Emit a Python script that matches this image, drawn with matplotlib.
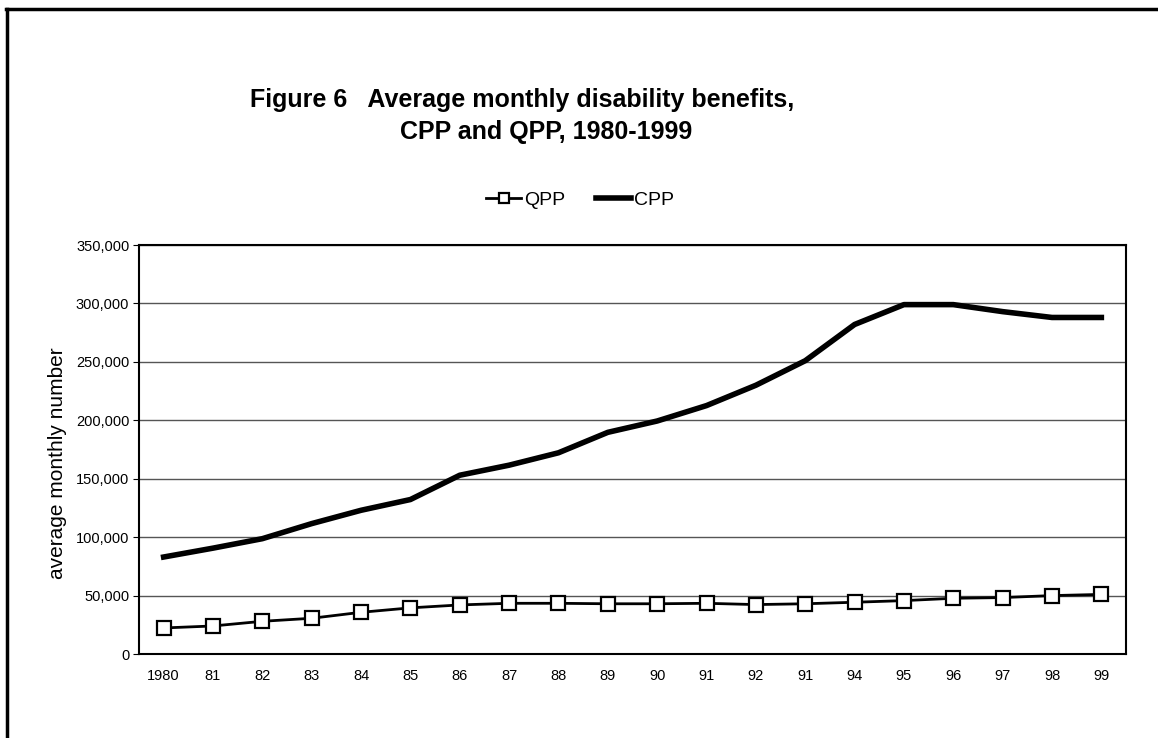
import matplotlib.pyplot as plt
from matplotlib.lines import Line2D
from matplotlib.ticker import FuncFormatter

# Datos
ANIOS = list(range(1980, 2000))
ETIQUETAS = ["1980", "81", "82", "83", "84", "85", "86", "87", "88", "89",
             "90", "91", "92", "91", "94", "95", "96", "97", "98", "99"]
CPP = [83000, 90600, 98700, 111600, 123000, 132200, 153000, 161600, 172200, 189700,
       199400, 212600, 230000, 251000, 282000, 299000, 299000, 293000, 288000, 288000]
QPP = [22300, 24000, 28000, 30600, 35700, 39500, 42000, 43400, 43400, 43000,
       43000, 43400, 42300, 43000, 44300, 45700, 47700, 48300, 50000, 51000]

plt.rcParams["font.family"] = ["Liberation Sans", "DejaVu Sans"]

fig = plt.figure(figsize=(11.58, 7.38), dpi=100)
ax = fig.add_axes([0.120, 0.1138, 0.8524, 0.5542])

x = list(range(len(ANIOS)))
ax.plot(x, QPP, color="black", lw=2.0, marker="s", ms=10,
        mfc="white", mec="black", mew=1.6, label="QPP", zorder=3)
ax.plot(x, CPP, color="black", lw=4.0, label="CPP", zorder=3)

ax.set_xlim(-0.5, len(ANIOS) - 0.5)
ax.set_ylim(0, 350000)
ax.set_yticks(range(0, 350001, 50000))
ax.yaxis.set_major_formatter(FuncFormatter(lambda v, p: f"{int(v):,}"))
ax.set_xticks(x)
ax.set_xticklabels(ETIQUETAS)
ax.tick_params(axis="x", length=0, pad=11, labelsize=10.5)
ax.tick_params(axis="y", length=4, direction="out", labelsize=10.5, pad=3)
ax.yaxis.grid(True, color="#555555", lw=1.0)
ax.set_axisbelow(True)
for s in ax.spines.values():
    s.set_linewidth(1.5)
ax.set_ylabel("average monthly number", fontsize=15)
ax.yaxis.set_label_coords(-0.073, 0.467)

fig.text(0.451, 0.8645, "Figure 6   Average monthly disability benefits,",
         ha="center", va="center", fontsize=18, fontweight="bold")
fig.text(0.4715, 0.821, "CPP and QPP, 1980-1999",
         ha="center", va="center", fontsize=18, fontweight="bold")

leg = fig.legend(loc="center", bbox_to_anchor=(0.501, 0.729), ncol=2, frameon=False,
                 handlelength=1.8, columnspacing=1.6, handletextpad=0.15,
                 prop={"size": 14}, markerscale=0.75)

# Marco exterior (solo arriba e izquierda)
fig.add_artist(Line2D([0.005, 1.0], [0.988, 0.988], color="black", lw=2.5,
                      transform=fig.transFigure))
fig.add_artist(Line2D([0.006, 0.006], [0.0, 0.988], color="black", lw=2.5,
                      transform=fig.transFigure))

fig.savefig("out.png", dpi=100)
